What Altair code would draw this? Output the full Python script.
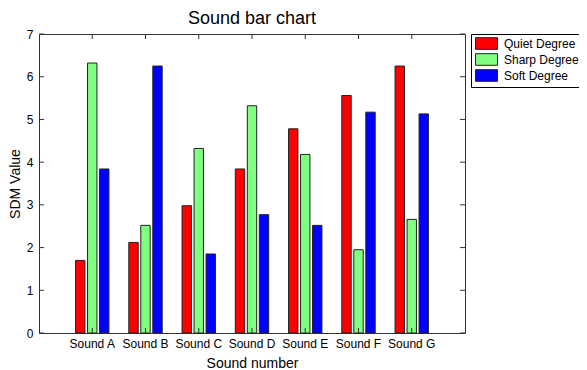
import altair as alt
import pandas as pd

sounds = ["Sound A", "Sound B", "Sound C", "Sound D", "Sound E", "Sound F", "Sound G"]
series = ["Quiet Degree", "Sharp Degree", "Soft Degree"]
quiet = [1.70, 2.12, 2.98, 3.84, 4.78, 5.56, 6.25]
sharp = [6.32, 2.52, 4.32, 5.32, 4.18, 1.95, 2.66]
soft = [3.84, 6.25, 1.85, 2.77, 2.52, 5.17, 5.13]
colors = ["#ff0000", "#80ff80", "#0000ff"]
y_ticks = [0, 1, 2, 3, 4, 5, 6, 7]

rows = []
for name, vals in zip(series, [quiet, sharp, soft]):
    for s, v in zip(sounds, vals):
        rows.append({"Sound": s, "Series": name, "Value": v})
df = pd.DataFrame(rows)
ticks_y = pd.DataFrame({"Value": y_ticks})
ticks_x = pd.DataFrame({"Sound": sounds})

W, H = 426, 299
FONT = "Liberation Sans"
AX = "#333333"

x_axis = alt.Axis(labelAngle=0, labelPadding=5, titlePadding=7)
y_axis = alt.Axis(values=y_ticks, labelPadding=6, titlePadding=4)
x_scale = alt.Scale(paddingInner=0, paddingOuter=0.5)
y_scale = alt.Scale(domain=[0, 7], nice=False, zero=True)


def xe(**kw):
    return alt.X("Sound:N", sort=sounds, title="Sound number", scale=x_scale, axis=x_axis, **kw)


def ye():
    return alt.Y("Value:Q", title="SDM Value", scale=y_scale, axis=y_axis)


bars = alt.Chart(df).mark_bar(stroke="#222222", strokeWidth=1).encode(
    x=xe(),
    xOffset=alt.XOffset("Series:N", sort=series,
                        scale=alt.Scale(paddingInner=0.217, paddingOuter=0.827)),
    y=ye(),
    color=alt.Color("Series:N", sort=series,
                    scale=alt.Scale(domain=series, range=colors),
                    legend=alt.Legend(
                        title=None, orient="right", offset=6,
                        symbolType="M-1.83,-0.97H1.83V0.97H-1.83Z", symbolSize=144,
                        symbolStrokeColor="#222222", symbolStrokeWidth=1,
                        symbolOpacity=1, symbolOffset=6,
                        labelFont=FONT, labelFontSize=12, labelColor="#000000",
                        strokeColor="#000000", fillColor="#ffffff",
                        padding=3, rowPadding=-1, labelOffset=11,
                    )),
)

xt_top = alt.Chart(ticks_x).mark_rule(color=AX).encode(
    x=xe(bandPosition=0.5), y=alt.value(0), y2=alt.value(5))
xt_bot = alt.Chart(ticks_x).mark_rule(color=AX).encode(
    x=xe(bandPosition=0.5), y=alt.value(H - 5), y2=alt.value(H))
yt_left = alt.Chart(ticks_y).mark_rule(color=AX).encode(
    y=ye(), x=alt.value(0), x2=alt.value(5))
yt_right = alt.Chart(ticks_y).mark_rule(color=AX).encode(
    y=ye(), x=alt.value(W - 5), x2=alt.value(W))

chart = alt.layer(bars, xt_top, xt_bot, yt_left, yt_right).properties(
    width=W, height=H,
    title=alt.Title("Sound bar chart", font=FONT, fontSize=18, fontWeight="normal",
                    color="#000000", offset=0),
    autosize=alt.AutoSizeParams(type="none"),
    padding={"left": 31, "top": 26, "right": 114, "bottom": 36},
).configure_view(
    stroke=AX, strokeWidth=1
).configure_axis(
    labelFont=FONT, labelFontSize=12, labelColor="#000000",
    titleFont=FONT, titleFontSize=14, titleFontWeight="normal", titleColor="#000000",
    ticks=False, domain=False, grid=False
).configure_legend(
    labelFont=FONT, labelFontSize=12
)

chart.save("out.html", embed_options={"renderer": "svg", "actions": False})
